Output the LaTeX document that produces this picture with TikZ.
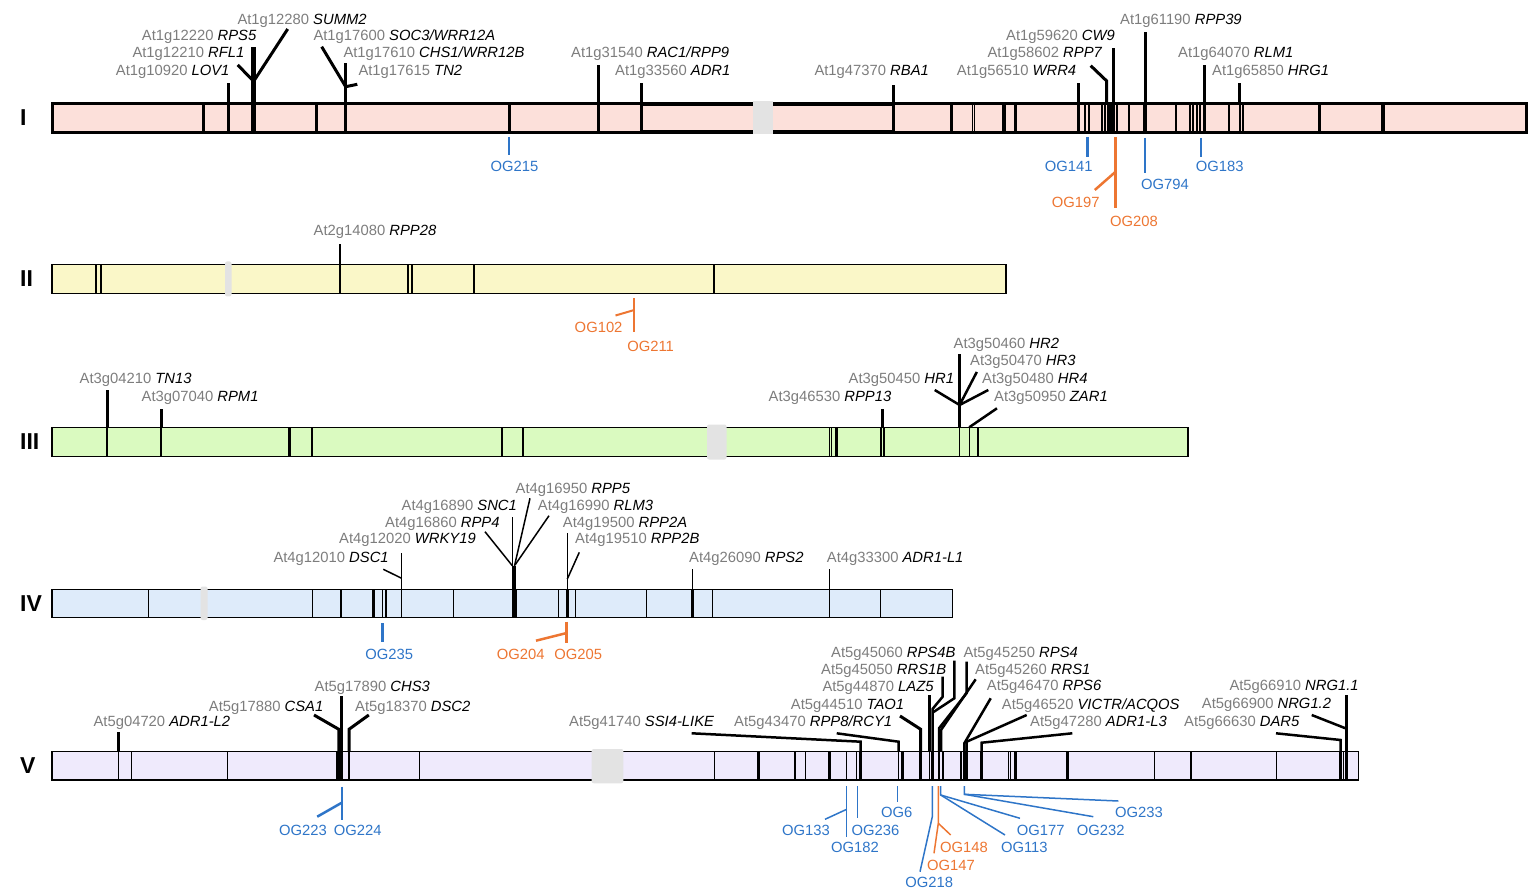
\documentclass[tikz,border=0pt]{standalone}
\usepackage{fontspec}
\setmainfont{Liberation Sans}
\definecolor{idgray}{RGB}{125,125,125}
\definecolor{ogblue}{RGB}{46,117,200}
\definecolor{ogorange}{RGB}{237,118,50}
\definecolor{cI}{RGB}{252,224,218}
\definecolor{cII}{RGB}{250,247,200}
\definecolor{cIII}{RGB}{218,250,192}
\definecolor{cIV}{RGB}{222,235,250}
\definecolor{cV}{RGB}{239,234,252}
\definecolor{cen}{RGB}{227,227,227}
\tikzset{
  gene/.style={anchor=base west, inner sep=0pt, font=\fontsize{14.8}{17}\selectfont},
  oglab/.style={inner sep=0pt, anchor=center, font=\fontsize{14.8}{17}\selectfont},
  chrlab/.style={anchor=west, inner sep=0pt, font=\fontsize{23}{26}\selectfont\bfseries},
  tk/.style={line width=#1},
  tk/.default=3pt,
  ogb/.style={draw=ogblue, line width=#1},
  ogb/.default=2.5pt,
  ogo/.style={draw=ogorange, line width=#1},
  ogo/.default=2.5pt,
  cenbox/.style={fill=cen, rounded corners=2pt},
}
\newcommand\GL[5]{\node[gene] (#1) at (#2,#3) {\textcolor{idgray}{#4} \textit{#5}};}
\begin{document}
\begin{tikzpicture}[x=1pt,y=-1pt]
\useasboundingbox (0,0) rectangle (1532,893);

% ---------------- Chromosome I ----------------
\node[chrlab] (chrI) at (20,118) {I};
\fill[cI] (52,103.3) rectangle (1526,132.3);
\foreach \x/\w in {203.3/3,228.3/3,253.3/4.5,316/3,345.7/3,509/3,598.3/3,641.7/3,893.3/3.5,951.7/3,
  972.3/1,974.8/1,1002.5/2,1005/2,1015.7/3,1078/3,1085.4/2,1088.8/2,1102/2.5,1105/2.5,1108/2,1110.5/2.5,1113.4/2.5,
  1116.8/2,1129/2,1145/4,1176/2,1190/2,1192.5/2,1197/2.5,1200/2.5,1204.5/2.5,1229/2,1239.5/2,1243/2,1319/3,1383/3.5}
  \draw[line width=\w pt] (\x,103.3) -- (\x,132.3);
\draw[line width=3pt] (52,103.3) rectangle (1526,132.3);
\draw[line width=2pt] (641.7,105) -- (893.3,105) (641.7,130.6) -- (893.3,130.6);
\fill[cen] (752.5,101) rectangle (772.5,134.5);
% ticks
\draw[tk] (228.3,103.3) -- (228.3,83);
\draw[tk=4.5pt] (253.3,103.3) -- (253.3,47);
\draw[tk] (237.7,65) -- (252.5,80);
\draw[tk] (287.7,29) -- (254.5,80);
\draw[tk] (345.7,103.3) -- (345.7,63);
\draw[tk] (321.7,46.7) -- (345.7,86.7) -- (357.3,84.3);
\draw[tk] (598.3,103.3) -- (598.3,65);
\draw[tk] (641.7,103.3) -- (641.7,83.3);
\draw[tk=3.5pt] (893.3,103.3) -- (893.3,85);
\draw[tk] (1078,103.3) -- (1078,83.3);
\draw[tk] (1090.7,65.7) -- (1106.7,81) -- (1106.7,103.3);
\draw[tk] (1113.4,103.3) -- (1113.4,47.7);
\draw[tk] (1145,103.3) -- (1145,31.7);
\draw[tk] (1204.9,103.3) -- (1204.9,65);
\draw[tk] (1239.6,103.3) -- (1239.6,83.3);
% labels
\GL{SUMM}{237.3}{25}{At1g12280}{SUMM2}
\GL{RPSfive}{141.7}{41}{At1g12220}{RPS5}
\GL{RFL}{132.3}{58}{At1g12210}{RFL1}
\GL{LOV}{115.7}{76}{At1g10920}{LOV1}
\GL{SOC}{313.3}{41}{At1g17600}{SOC3/WRR12A}
\GL{CHSone}{343.3}{58}{At1g17610}{CHS1/WRR12B}
\GL{TNtwo}{358.3}{76}{At1g17615}{TN2}
\GL{RAC}{571}{58}{At1g31540}{RAC1/RPP9}
\GL{ADRone}{615}{76}{At1g33560}{ADR1}
\GL{RBA}{814.3}{76}{At1g47370}{RBA1}
\GL{WRR}{956.7}{76}{At1g56510}{WRR4}
\GL{RPPseven}{987.3}{58}{At1g58602}{RPP7}
\GL{CW}{1006}{41}{At1g59620}{CW9}
\GL{RPPthirtynine}{1120}{25}{At1g61190}{RPP39}
\GL{RLM}{1178}{58}{At1g64070}{RLM1}
\GL{HRG}{1212}{76}{At1g65850}{HRG1}
% OG
\draw[ogb] (509,137) -- (509,155);
\node[oglab,text=ogblue] (OGa) at (514.5,166.5) {OG215};
\draw[ogb] (1087.7,137) -- (1087.7,157.5);
\node[oglab,text=ogblue] (OGb) at (1068.7,166.5) {OG141};
\draw[ogo] (1115.3,137) -- (1115.3,208.5);
\draw[ogo] (1115.3,172) -- (1094.8,190);
\node[oglab,text=ogorange] (OGc) at (1075.7,202.3) {OG197};
\node[oglab,text=ogorange] (OGd) at (1134,221.7) {OG208};
\draw[ogb] (1144.8,138) -- (1144.8,173.5);
\node[oglab,text=ogblue] (OGe) at (1165,184.3) {OG794};
\draw[ogb] (1201,138) -- (1201,157);
\node[oglab,text=ogblue] (OGf) at (1219.8,166.5) {OG183};

% ---------------- Chromosome II ----------------
\node[chrlab] (chrII) at (20,279) {II};
\fill[cII] (52,264.3) rectangle (1006,293.3);
\foreach \x/\w in {96/1.3,101/1.3,340/1.3,408/1.3,412/2,474/1.3,714/1.3}
  \draw[line width=\w pt] (\x,264.3) -- (\x,293.3);
\draw[line width=1.5pt] (52,264.3) rectangle (1006,293.3);
\fill[cenbox] (225,261.5) rectangle (231.5,296.5);
\draw[tk=2pt] (340,264.3) -- (340,244.5);
\GL{RPPtwentyeight}{313.5}{236}{At2g14080}{RPP28}
\draw[ogo=2pt] (634.3,298.3) -- (634.3,331.7);
\draw[ogo=2pt] (634.3,310) -- (615.5,315.5);
\node[oglab,text=ogorange] (OGg) at (598.6,327.3) {OG102};
\node[oglab,text=ogorange] (OGh) at (650.6,346) {OG211};

% ---------------- Chromosome III ----------------
\node[chrlab] (chrIII) at (20,442) {III};
\fill[cIII] (52,427.3) rectangle (1188,456.5);
\foreach \x/\w in {107/1.3,161/1.3,289.3/2.5,312/1.3,502/1.3,523/1.3,829.5/1,831.8/1,836.4/2.5,881.2/2,883.9/2,959.6/1.3,969.2/1.3,978/1.3}
  \draw[line width=\w pt] (\x,427.3) -- (\x,456.5);
\draw[line width=1.5pt] (52,427.3) rectangle (1188,456.5);
\fill[cenbox] (707,424.5) rectangle (726.5,459.5);
\draw[tk] (107,427.3) -- (107,390);
\draw[tk] (161,427.3) -- (161,409);
\draw[tk] (882.5,427.3) -- (882.5,409);
\draw[tk=2.5pt] (959.6,427.3) -- (959.6,354);
\draw[tk=2.5pt] (934.7,390) -- (959.6,405) -- (976.8,372);
\draw[tk=2.5pt] (959.6,405) -- (988.3,390);
\draw[tk=2.5pt] (969.2,427.3) -- (997,408.3);
\GL{TNthirteen}{79.5}{383.5}{At3g04210}{TN13}
\GL{RPM}{141.5}{402}{At3g07040}{RPM1}
\GL{RPPthirteen}{768.5}{402}{At3g46530}{RPP13}
\GL{HRone}{848.5}{384}{At3g50450}{HR1}
\GL{HRtwo}{953.5}{348.5}{At3g50460}{HR2}
\GL{HRthree}{970}{366}{At3g50470}{HR3}
\GL{HRfour}{982}{384}{At3g50480}{HR4}
\GL{ZAR}{994}{402}{At3g50950}{ZAR1}

% ---------------- Chromosome IV ----------------
\node[chrlab] (chrIV) at (20,604) {IV};
\fill[cIV] (52,589.3) rectangle (952.7,617.3);
\foreach \x/\w in {148.3/1.3,312.3/1.3,341/2.5,373.3/2.5,382.7/1.3,386/1.3,401.7/1.3,453.3/1.3,512.3/1.3,514.6/4,
  558.3/1.3,567.3/2.5,575.7/1.3,646.7/1.3,692.7/2.5,712.3/1.3,829.3/1.3,880.7/1.3}
  \draw[line width=\w pt] (\x,589.3) -- (\x,617.3);
\draw[line width=1.5pt] (52,589.3) rectangle (952.7,617.3);
\fill[cenbox] (200.5,586.5) rectangle (207.5,620);
\draw[tk=1.5pt] (401.7,589.3) -- (401.7,553.3);
\draw[tk=1.5pt] (383.3,569.3) -- (401.7,578.3);
\draw[tk=1.5pt] (512.3,589.3) -- (512.3,516.7);
\draw[tk=1.5pt] (485,531.7) -- (512.3,565.7);
\draw[tk=1.5pt] (530,498.3) -- (514.3,566.7);
\draw[tk=1.5pt] (549,515.7) -- (515,565);
\draw[tk=3pt] (514.6,589.3) -- (514.6,566);
\draw[tk=1.5pt] (567.3,589.3) -- (567.3,533.3);
\draw[tk=1.5pt] (579.3,552.3) -- (567.3,579);
\draw[tk=1.5pt] (692.7,589.3) -- (692.7,569.3);
\draw[tk=1.5pt] (829.3,589.3) -- (829.3,569.3);
\GL{RPPfive}{515.5}{493.5}{At4g16950}{RPP5}
\GL{SNC}{401.5}{510.5}{At4g16890}{SNC1}
\GL{RLMthree}{537.7}{510.5}{At4g16990}{RLM3}
\GL{RPPfour}{385}{527}{At4g16860}{RPP4}
\GL{RPPtwoA}{562.7}{527}{At4g19500}{RPP2A}
\GL{WRKY}{339}{543.5}{At4g12020}{WRKY19}
\GL{RPPtwoB}{575}{543.5}{At4g19510}{RPP2B}
\GL{DSCone}{273.3}{562}{At4g12010}{DSC1}
\GL{RPStwo}{689}{562}{At4g26090}{RPS2}
\GL{ADRLone}{826.7}{562}{At4g33300}{ADR1-L1}
\draw[ogb] (382.3,623) -- (382.3,641.7);
\node[oglab,text=ogblue] (OGi) at (389.3,654) {OG235};
\draw[ogo] (566.7,621.7) -- (566.7,642.7);
\draw[ogo] (566.7,633) -- (536,640.7);
\node[oglab,text=ogorange] (OGj) at (520.7,654) {OG204};
\node[oglab,text=ogorange] (OGk) at (578.3,654) {OG205};

% ---------------- Chromosome V ----------------
\node[chrlab] (chrV) at (20,766) {V};
\fill[cV] (52,751.7) rectangle (1358.3,780);
\foreach \x/\w in {118.8/1.3,131.2/1.3,227.3/1.3,337/1.3,339/2.5,341.6/2.5,349/2.5,419.7/1.3,714.3/1.3,758.3/2.5,795/1.3,805.7/1.3,
  829.3/2.5,846.7/1.3,856.7/1.3,860.7/2.5,898.6/1.3,902.7/2.5,920.7/3,929.3/1.5,932.5/2.5,939/2.5,942.8/1.5,961/1.3,964.3/2.5,966.6/2,
  981.7/2.5,1008.3/1.3,1010.5/1.3,1015.5/2.5,1067.7/2.5,1154.3/1.3,1191/1.3,1276.7/1.3,1340.7/2.5,1343.3/1.3,1346.5/3}
  \draw[line width=\w pt] (\x,751.7) -- (\x,780);
\draw[line width=1.5pt] (52,751.7) rectangle (1358.3,780);
\fill[cenbox] (591.7,749) rectangle (623.3,783.3);
\draw[tk] (118.8,751.7) -- (118.8,732.3);
\draw[tk] (341.6,751.7) -- (341.6,696);
\draw[tk] (314,715) -- (338.8,729.3) -- (338.8,751.7);
\draw[tk] (368.8,715) -- (349,729.3) -- (349,751.7);
\draw[tk=2.5pt] (691.7,733.3) -- (860.7,741.7) -- (860.7,751.7);
\draw[tk=2.5pt] (836.7,733.3) -- (898.6,741.7) -- (898.6,751.7);
\draw[tk] (900,716) -- (920.7,729.3) -- (920.7,751.7);
\draw[tk=2.5pt] (929.6,751.7) -- (929.6,695);
\draw[tk=2.5pt] (942.7,676.7) -- (942.7,696.7) -- (932.5,709) -- (932.5,751.7);
\draw[tk=2.5pt] (954.3,660.7) -- (954.3,698.3) -- (933.5,712);
\draw[tk=2.5pt] (966.7,661.7) -- (966.7,693) -- (939,728.3) -- (939,751.7);
\draw[tk=2.5pt] (975.7,679.3) -- (941,730) -- (941,751.7);
\draw[tk=2.5pt] (990.7,698.3) -- (964.3,743.3) -- (964.3,751.7);
\draw[tk=2.5pt] (1026.7,715) -- (966.7,741.7) -- (966.7,751.7);
\draw[tk=2.5pt] (1072.3,733.3) -- (981.7,742.7) -- (981.7,751.7);
\draw[tk=2.5pt] (1276,733.3) -- (1340.7,740) -- (1340.7,751.7);
\draw[tk=2.5pt] (1311.7,715) -- (1345.5,728.3);
\draw[tk] (1346.7,751.7) -- (1346.7,695);
\GL{ADRLtwo}{93.4}{726.5}{At5g04720}{ADR1-L2}
\GL{CSA}{208.7}{711.5}{At5g17880}{CSA1}
\GL{CHSthree}{314.5}{691.5}{At5g17890}{CHS3}
\GL{DSCtwo}{355}{711.5}{At5g18370}{DSC2}
\GL{SSI}{569}{726}{At5g41740}{SSI4-LIKE}
\GL{RPPeight}{734}{726}{At5g43470}{RPP8/RCY1}
\GL{TAO}{790.7}{709.5}{At5g44510}{TAO1}
\GL{LAZ}{822.3}{691.5}{At5g44870}{LAZ5}
\GL{RRSoneB}{821}{674.5}{At5g45050}{RRS1B}
\GL{RPSfourB}{831}{657}{At5g45060}{RPS4B}
\GL{RPSfour}{963.3}{657}{At5g45250}{RPS4}
\GL{RRSone}{975}{674}{At5g45260}{RRS1}
\GL{RPSsix}{986.7}{690.5}{At5g46470}{RPS6}
\GL{VICTR}{1001.7}{709}{At5g46520}{VICTR/ACQOS}
\GL{ADRLthree}{1030}{726.5}{At5g47280}{ADR1-L3}
\GL{NRGa}{1229.3}{690.5}{At5g66910}{NRG1.1}
\GL{NRGb}{1201.7}{708.5}{At5g66900}{NRG1.2}
\GL{DAR}{1184}{726.5}{At5g66630}{DAR5}
% OG V
\draw[ogb] (341.8,786.7) -- (341.8,820);
\draw[ogb] (341.8,802.7) -- (317.2,816.7);
\node[oglab,text=ogblue] (OGl) at (302.9,830) {OG223};
\node[oglab,text=ogblue] (OGm) at (357.7,830) {OG224};
\draw[ogb=1.5pt] (846.7,786) -- (846.7,836.7);
\draw[ogb=1.5pt] (846.7,809.3) -- (825,819.3);
\node[oglab,text=ogblue] (OGn) at (806,830) {OG133};
\node[oglab,text=ogblue] (OGo) at (855,847.3) {OG182};
\draw[ogb=1.5pt] (857.3,786) -- (857.3,818.3);
\node[oglab,text=ogblue] (OGp) at (875.5,830) {OG236};
\draw[ogb=1.5pt] (897.3,786) -- (897.3,801.7);
\node[oglab,text=ogblue] (OGq) at (896.7,812.7) {OG6};
\draw[ogb=1.5pt] (932.3,786) -- (932.3,816.7) -- (920,871.7);
\node[oglab,text=ogblue] (OGr) at (929.3,882.7) {OG218};
\draw[ogo=1.5pt] (938.3,786) -- (938.3,823.3) -- (934,853.3);
\draw[ogo=1.5pt] (938.3,823.3) -- (950.7,835);
\node[oglab,text=ogorange] (OGs) at (964,847.3) {OG148};
\node[oglab,text=ogorange] (OGt) at (951,865.7) {OG147};
\draw[ogb=1.5pt] (940.7,786) -- (940.7,795) -- (1005,835);
\draw[ogb=1.5pt] (940.7,795) -- (1020,818.3);
\node[oglab,text=ogblue] (OGu) at (1024.3,847.3) {OG113};
\node[oglab,text=ogblue] (OGv) at (1040.7,830) {OG177};
\draw[ogb=1.5pt] (964.3,786) -- (964.3,794.3) -- (1118.3,801);
\draw[ogb=1.5pt] (964.3,794.3) -- (1093.3,816.7);
\node[oglab,text=ogblue] (OGw) at (1100.7,830) {OG232};
\node[oglab,text=ogblue] (OGx) at (1139,812.7) {OG233};
\end{tikzpicture}
\end{document}
